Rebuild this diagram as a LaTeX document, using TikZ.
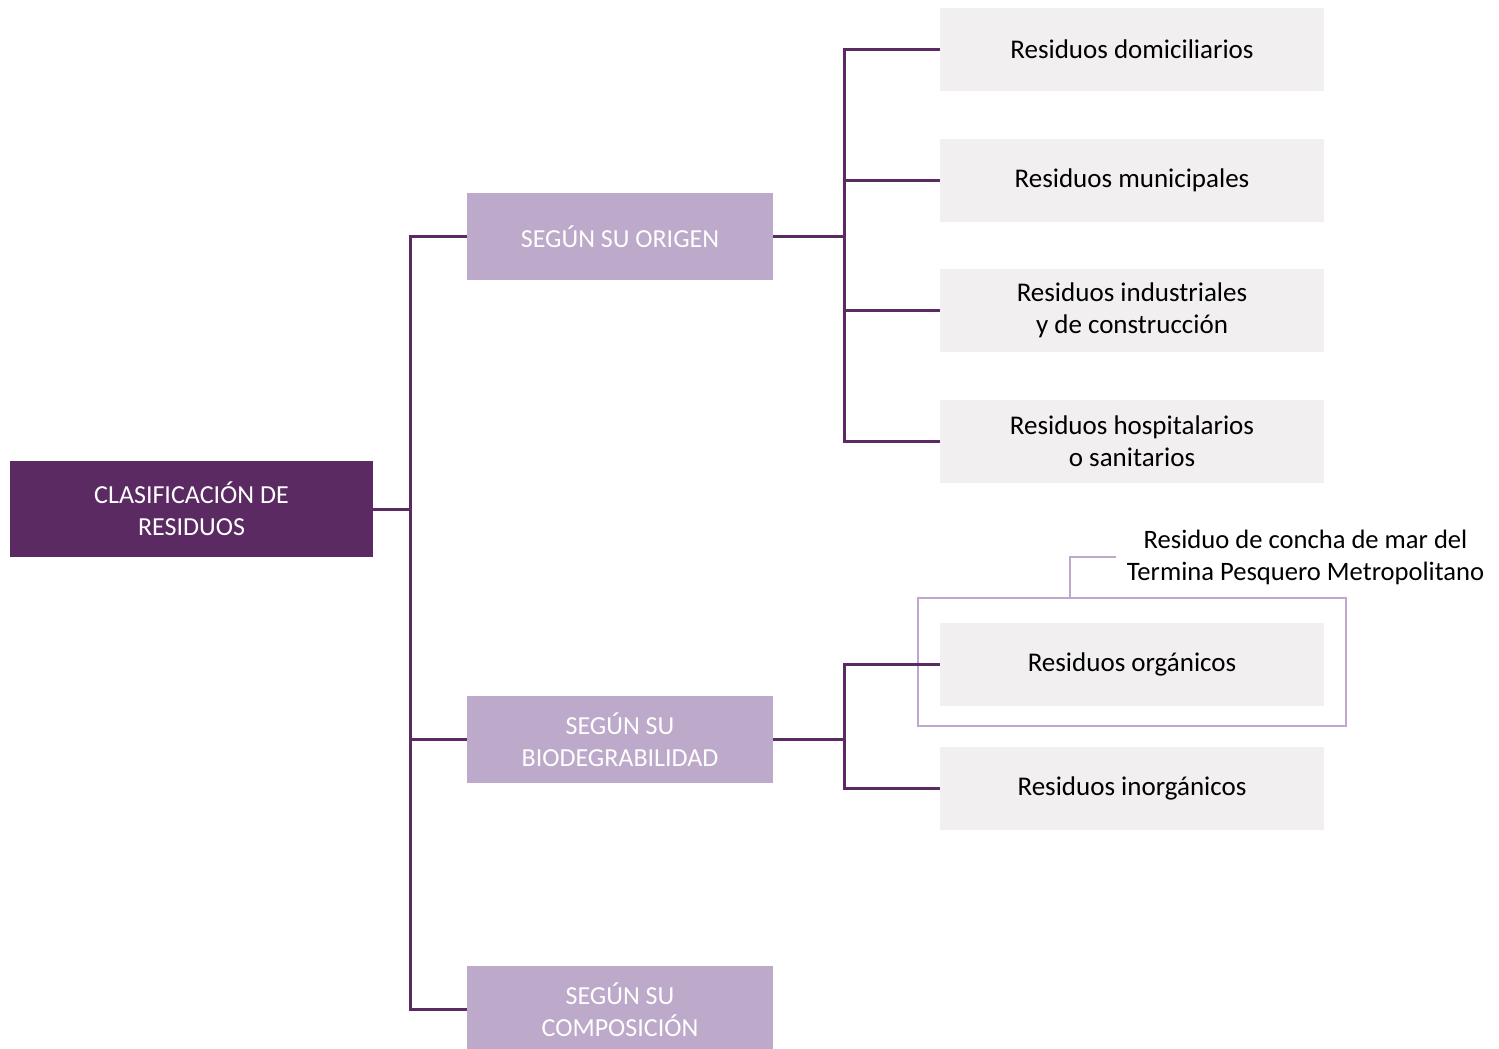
\documentclass[tikz,border=0pt]{standalone}
\usepackage{fontspec}
\setmainfont{Carlito}
\usepackage{tikz}
\usetikzlibrary{positioning}

\definecolor{morado}{RGB}{92,42,99}
\definecolor{lila}{RGB}{189,169,201}
\definecolor{gris}{RGB}{241,239,240}
\definecolor{lilaclaro}{RGB}{192,168,204}

\begin{document}
\begin{tikzpicture}[x=0.5pt,y=-0.5pt,font=\fontsize{13.5}{16}\selectfont,
  conn/.style={draw=morado,line width=1.5pt},
  raiz/.style={fill=morado,text=white,minimum width=181.5pt,minimum height=48pt,align=center,inner sep=0pt,font=\fontsize{13}{16}\selectfont},
  criterio/.style={fill=lila,text=white,minimum width=153pt,minimum height=43.5pt,align=center,inner sep=0pt,font=\fontsize{13}{16}\selectfont},
  tipo/.style={fill=gris,text=black,minimum width=192pt,minimum height=41.5pt,align=center,inner sep=0pt},
  marco/.style={draw=lilaclaro,line width=1pt,minimum width=214pt,minimum height=64pt,inner sep=0pt}]

\useasboundingbox (0,0) rectangle (1499,1049);

\node[raiz] (clasif) at (191.5,509) {CLASIFICACIÓN DE\\RESIDUOS};

\node[criterio] (origen) at (620,236.5) {SEGÚN SU ORIGEN};
\node[criterio] (bio) at (620,739.5) {SEGÚN SU\\BIODEGRABILIDAD};
\node[criterio] (comp) at (620,1009.5) {SEGÚN SU\\COMPOSICIÓN};

\node[marco] (resalte) at (1132,662) {};

\node[tipo] (dom) at (1132,49) {Residuos domiciliarios};
\node[tipo] (mun) at (1132,180) {Residuos municipales};
\node[tipo] (ind) at (1132,310.5) {Residuos industriales\\y de construcción};
\node[tipo] (hosp) at (1132,441.5) {Residuos hospitalarios\\o sanitarios};
\node[tipo] (org) at (1132,664.5) {Residuos orgánicos};
\node[tipo] (inorg) at (1132,788.5) {Residuos inorgánicos};

\node[align=center,inner sep=5pt,font=\fontsize{13.3}{16}\selectfont] (nota) at (1305.5,557) {Residuo de concha de mar del\\Termina Pesquero Metropolitano};

\coordinate (tronco) at (410,0);
\coordinate (rama) at (844,0);

\draw[conn] (clasif.east) -- (clasif.east -| tronco);
\draw[conn] (origen.west) -- (origen.west -| tronco) |- (comp.west);
\draw[conn] (bio.west) -- (bio.west -| tronco);

\draw[conn] (origen.east) -- (origen.east -| rama);
\draw[conn] (dom.west) -- (dom.west -| rama) |- (hosp.west);
\foreach \t in {mun,ind}
  \draw[conn] (\t.west) -- (\t.west -| rama);

\draw[conn] (bio.east) -- (bio.east -| rama);
\draw[conn] (org.west) -- (org.west -| rama) |- (inorg.west);

\draw[draw=lilaclaro,line width=1pt] (resalte.north west) ++(153,0) |- (nota.west);

\end{tikzpicture}
\end{document}
